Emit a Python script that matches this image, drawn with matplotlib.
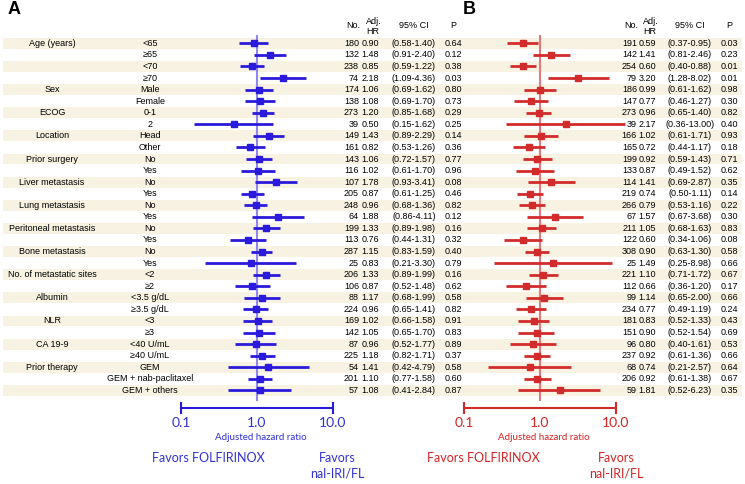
import numpy as np
import matplotlib.pyplot as plt

# ---- data -----------------------------------------------------------
groups = ["Age (years)", "", "", "", "Sex", "", "ECOG", "", "Location", "",
          "Prior surgery", "", "Liver metastasis", "", "Lung metastasis", "",
          "Peritoneal metastasis", "", "Bone metastasis", "",
          "No. of metastatic sites", "", "Albumin", "", "NLR", "",
          "CA 19-9", "", "Prior therapy", "", ""]
subgroups = ["<65", "≥65", "<70", "≥70", "Male", "Female", "0-1", "2",
             "Head", "Other", "No", "Yes", "No", "Yes", "No", "Yes",
             "No", "Yes", "No", "Yes", "<2", "≥2", "<3.5 g/dL", "≥3.5 g/dL",
             "<3", "≥3", "<40 U/mL", "≥40 U/mL", "GEM",
             "GEM + nab-paclitaxel", "GEM + others"]

# panel A
n_a = [180, 132, 238, 74, 174, 138, 273, 39, 149, 161, 143, 116, 107, 205,
       248, 64, 199, 113, 287, 25, 206, 106, 88, 224, 169, 142, 87, 225,
       54, 201, 57]
hr_a = [0.90, 1.48, 0.85, 2.18, 1.06, 1.08, 1.20, 0.50, 1.43, 0.82, 1.06,
        1.02, 1.78, 0.87, 0.96, 1.88, 1.33, 0.76, 1.15, 0.83, 1.33, 0.87,
        1.17, 0.96, 1.02, 1.05, 0.96, 1.18, 1.41, 1.10, 1.08]
lo_a = [0.58, 0.91, 0.59, 1.09, 0.69, 0.69, 0.85, 0.15, 0.89, 0.53, 0.72,
        0.61, 0.93, 0.61, 0.68, 0.86, 0.89, 0.44, 0.83, 0.21, 0.89, 0.52,
        0.68, 0.65, 0.66, 0.65, 0.52, 0.82, 0.42, 0.77, 0.41]
hi_a = [1.40, 2.40, 1.22, 4.36, 1.62, 1.70, 1.68, 1.62, 2.29, 1.26, 1.57,
        1.70, 3.41, 1.25, 1.36, 4.11, 1.98, 1.31, 1.59, 3.30, 1.99, 1.48,
        1.99, 1.41, 1.58, 1.70, 1.77, 1.71, 4.79, 1.58, 2.84]
p_a = ["0.64", "0.12", "0.38", "0.03", "0.80", "0.73", "0.29", "0.25",
       "0.14", "0.36", "0.77", "0.96", "0.08", "0.46", "0.82", "0.12",
       "0.16", "0.32", "0.40", "0.79", "0.16", "0.62", "0.58", "0.82",
       "0.91", "0.83", "0.89", "0.37", "0.58", "0.60", "0.87"]

# panel B
n_b = [191, 142, 254, 79, 186, 147, 273, 39, 166, 165, 199, 133, 114, 219,
       266, 67, 211, 122, 308, 25, 221, 112, 99, 234, 181, 151, 96, 237,
       68, 206, 59]
hr_b = [0.59, 1.41, 0.60, 3.20, 0.99, 0.77, 0.96, 2.17, 1.02, 0.72, 0.92,
        0.87, 1.41, 0.74, 0.79, 1.57, 1.05, 0.60, 0.90, 1.49, 1.10, 0.66,
        1.14, 0.77, 0.83, 0.90, 0.80, 0.92, 0.74, 0.92, 1.81]
lo_b = [0.37, 0.81, 0.40, 1.28, 0.61, 0.46, 0.65, 0.36, 0.61, 0.44, 0.59,
        0.49, 0.69, 0.50, 0.53, 0.67, 0.68, 0.34, 0.63, 0.25, 0.71, 0.36,
        0.65, 0.49, 0.52, 0.52, 0.40, 0.61, 0.21, 0.61, 0.52]
hi_b = [0.95, 2.46, 0.88, 8.02, 1.62, 1.27, 1.40, 13.00, 1.71, 1.17, 1.43,
        1.52, 2.87, 1.11, 1.16, 3.68, 1.63, 1.06, 1.30, 8.98, 1.72, 1.20,
        2.00, 1.19, 1.33, 1.54, 1.61, 1.36, 2.57, 1.38, 6.23]
p_b = ["0.03", "0.23", "0.01", "0.01", "0.98", "0.30", "0.82", "0.40",
       "0.93", "0.18", "0.71", "0.62", "0.35", "0.14", "0.22", "0.30",
       "0.83", "0.08", "0.58", "0.66", "0.67", "0.17", "0.66", "0.24",
       "0.43", "0.69", "0.53", "0.66", "0.64", "0.67", "0.35"]

# ---- layout (pixel units, figure is 745 x 484) ------------------------
W, H = 745, 484
y0, dy = 43.3, 11.57
rows_y = y0 + dy * np.arange(len(subgroups))
k = 76.0  # pixels per decade
TAB = "Liberation Sans"
AX = "Lato"
FS = 6.5

fig = plt.figure(figsize=(W / 100, H / 100), dpi=100)
bg = fig.add_axes([0, 0, 1, 1])
bg.set_xlim(0, W)
bg.set_ylim(H, 0)
bg.axis("off")

# stripes
for i, y in enumerate(rows_y):
    if i % 2 == 0:
        bg.fill_between([3, 742], y - dy / 2 + 0.4, y + dy / 2 - 0.4,
                        color="#f7f2e1", lw=0, zorder=0)

for y, g, s in zip(rows_y, groups, subgroups):
    bg.text(52, y, g, ha="center", va="center", fontsize=FS, family=TAB)
    bg.text(150, y, s, ha="center", va="center", fontsize=FS, family=TAB)

bg.text(8, 9, "A", fontsize=13, fontweight="bold", family=TAB,
        ha="left", va="center")
bg.text(463, 9, "B", fontsize=13, fontweight="bold", family=TAB,
        ha="left", va="center")


def panel(cx, tab_x, n, hr, lo, hi, p, col, refcol, tcol, fav_x):
    # cx: pixel of HR = 1, tab_x: (No right, HR right, CI centre, P centre)
    L, R, T, B = cx - 120, cx + 100, 30, 430
    ax = fig.add_axes([L / W, 1 - B / H, (R - L) / W, (B - T) / H])
    ax.set_xscale("log")
    ax.set_xlim(10 ** ((L - cx) / k), 10 ** ((R - cx) / k))
    ax.set_ylim(B, T)
    ax.axis("off")
    ax.patch.set_alpha(0)

    hr = np.array(hr)
    err = [hr - np.array(lo), np.array(hi) - hr]
    ax.plot([1, 1], [36, 400], color=refcol, lw=1.5, zorder=1)
    ax.errorbar(hr, rows_y, xerr=err, fmt="s", color=col, ms=4.5, lw=2,
                capsize=0, zorder=3)

    # scale bar
    ax.plot([0.1, 10], [408, 408], color=col, lw=1.5)
    for t in (0.1, 10):
        ax.plot([t, t], [403, 413], color=col, lw=1.5)
    for t, lab in zip((0.1, 1, 10), ("0.1", "1.0", "10.0")):
        ax.text(t, 423, lab, ha="center", va="center", fontsize=10,
                family=AX, color=tcol)
    ax.text(1.12, 437, "Adjusted hazard ratio", ha="center", va="center",
            fontsize=7, family=AX, color=tcol)

    bg.text(fav_x[0], 458, "Favors FOLFIRINOX", ha="center", va="center",
            fontsize=9, family=AX, color=tcol)
    bg.text(fav_x[1], 458, "Favors", ha="center", va="center",
            fontsize=9, family=AX, color=tcol)
    bg.text(fav_x[1], 474, "nal-IRI/FL", ha="center", va="center",
            fontsize=9, family=AX, color=tcol)

    xn, xh, xc, xp = tab_x
    bg.text(xn + 1.5, 26, "No.", ha="right", va="center", fontsize=FS,
            family=TAB)
    bg.text(xh - 5, 21, "Adj.", ha="center", va="center", fontsize=FS,
            family=TAB)
    bg.text(xh - 6, 31, "HR", ha="center", va="center", fontsize=FS,
            family=TAB)
    bg.text(xc, 26, "95% CI", ha="center", va="center", fontsize=FS,
            family=TAB)
    bg.text(xp, 26, "P", ha="center", va="center", fontsize=FS, family=TAB)
    for y, a, b, c, d, e in zip(rows_y, n, hr, lo, hi, p):
        bg.text(xn, y, str(a), ha="right", va="center", fontsize=FS,
                family=TAB)
        bg.text(xh, y, "%.2f" % b, ha="right", va="center", fontsize=FS,
                family=TAB)
        bg.text(xc, y, "(%.2f-%.2f)" % (c, d), ha="center", va="center",
                fontsize=FS, family=TAB)
        bg.text(xp, y, e, ha="center", va="center", fontsize=FS, family=TAB)


panel(257, (359, 379, 414, 453.5), n_a, hr_a, lo_a, hi_a, p_a,
      "#2a1adb", "#9088ee", "#3030d8", (208, 337))
panel(540, (637, 656, 690, 729.5), n_b, hr_b, lo_b, hi_b, p_b,
      "#d22b2b", "#e27a7a", "#d42424", (483, 616))

fig.savefig("out.png", dpi=100)
